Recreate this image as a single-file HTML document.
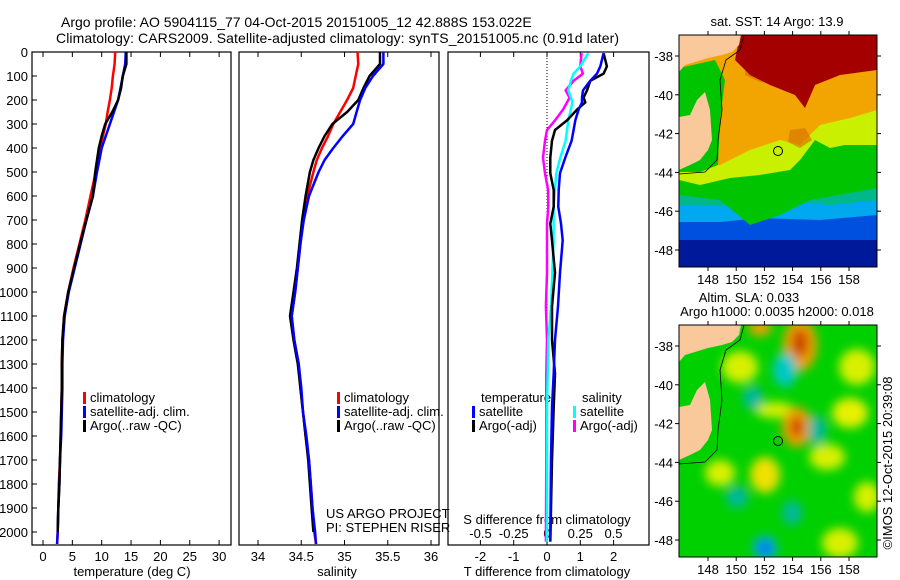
<!DOCTYPE html>
<html><head><meta charset="utf-8"><style>
html,body{margin:0;padding:0;background:#fff;}
svg{display:block;font-family:"Liberation Sans",sans-serif;}
text{font-size:13px;fill:#000;}
</style></head><body>
<svg id="c" width="900" height="580" viewBox="0 0 900 580" xmlns="http://www.w3.org/2000/svg">
<defs>
<clipPath id="m1"><rect x="679" y="35" width="198" height="232"/></clipPath>
<clipPath id="m2"><rect x="679" y="325" width="198" height="232"/></clipPath>
<filter id="bl" x="-50%" y="-50%" width="200%" height="200%"><feGaussianBlur stdDeviation="5"/></filter>
</defs>
<text x="61" y="27" style="font-size:14px">Argo profile: AO 5904115_77 04-Oct-2015 20151005_12 42.888S 153.022E</text>
<text x="56" y="43" style="font-size:14px" textLength="563">Climatology: CARS2009. Satellite-adjusted climatology: synTS_20151005.nc (0.91d later)</text>
<g id="axes"></g>
<g id="series"></g>

<!-- SST map -->
<g clip-path="url(#m1)">
<rect x="679" y="35" width="198" height="232" fill="#00189a"/>
<rect x="679" y="35" width="198" height="205" fill="#0050e0"/>
<polygon points="679,35 877,35 877,215 820,220 760,218 720,222 679,222" fill="#00a8f0"/>
<polygon points="679,35 877,35 877,200 830,205 780,200 720,206 679,205" fill="#00b88a"/>
<polygon points="679,35 877,35 877,188 810,200 780,215 750,225 720,200 679,195" fill="#00c400"/>
<polygon points="679,35 877,35 877,145 845,145 830,148 815,140 800,160 790,170 760,175 730,178 700,185 679,180" fill="#c8f000"/>
<polygon points="679,35 877,35 877,110 850,118 820,125 800,145 780,140 750,150 720,165 679,170" fill="#f2a400"/>
<polygon points="745,60 790,55 800,80 780,85 760,82 745,75" fill="#d87800" opacity="0.8"/>
<polygon points="790,130 805,128 812,140 800,148 788,142" fill="#d87800" opacity="0.7"/>
<polygon points="740,35 877,35 877,70 840,75 815,85 805,108 795,95 770,85 750,75 735,60" fill="#a50000"/>
<polygon points="679,68 715,60 725,80 720,120 718,165 700,172 679,172" fill="#00c400"/>
<polygon points="679,35 741,35 739,45 732,52 722,55 708,58 695,62 685,65 679,72" fill="#f9c89b"/>
<polygon points="679,117 690,115 697,100 705,92 710,110 712,140 708,150 700,160 690,165 679,170" fill="#f9c89b"/>
<polyline points="744,35 740,50 726,60 720,80 722,110 718,140 717,160 705,172 679,174" fill="none" stroke="#000" stroke-width="0.8"/>
<circle cx="778" cy="151" r="4.5" fill="none" stroke="#000" stroke-width="1"/>
</g>
<rect x="679" y="35" width="198" height="232" fill="none" stroke="#000" stroke-width="1"/>

<!-- SLA map -->
<g clip-path="url(#m2)">
<rect x="679" y="325" width="198" height="232" fill="#00d000"/>
<g filter="url(#bl)">
<ellipse cx="740" cy="367" rx="18" ry="16" fill="#d8f000"/>
<ellipse cx="857" cy="367" rx="18" ry="18" fill="#d8f000"/>
<ellipse cx="850" cy="413" rx="18" ry="15" fill="#e8f000"/>
<ellipse cx="827" cy="457" rx="18" ry="13" fill="#d8f000"/>
<ellipse cx="720" cy="473" rx="15" ry="13" fill="#d8f000"/>
<ellipse cx="840" cy="543" rx="18" ry="15" fill="#d8f000"/>
<ellipse cx="867" cy="497" rx="13" ry="15" fill="#d8f000"/>
<ellipse cx="765" cy="475" rx="15" ry="18" fill="#f0e000"/>
<ellipse cx="775" cy="410" rx="20" ry="8" fill="#d8f000"/>
<ellipse cx="800" cy="345" rx="17" ry="26" fill="#f0a000"/>
<ellipse cx="800" cy="343" rx="8" ry="14" fill="#c84000"/>
<ellipse cx="797" cy="427" rx="15" ry="20" fill="#f0a000"/>
<ellipse cx="797" cy="427" rx="6" ry="10" fill="#c83000"/>
<ellipse cx="760" cy="328" rx="12" ry="8" fill="#f0a000"/>
<ellipse cx="785" cy="370" rx="12" ry="17" fill="#00c8c8"/>
<ellipse cx="753" cy="398" rx="10" ry="12" fill="#00b8a0"/>
<ellipse cx="817" cy="430" rx="9" ry="15" fill="#00b8a0"/>
<ellipse cx="737" cy="497" rx="11" ry="11" fill="#00b8a0"/>
<ellipse cx="792" cy="513" rx="10" ry="12" fill="#00b8a0"/>
<ellipse cx="765" cy="548" rx="12" ry="12" fill="#00a8f0"/>
<ellipse cx="765" cy="548" rx="5" ry="5" fill="#0050e0"/>
</g>
<polygon points="679,325 741,325 739,335 732,342 722,345 708,348 695,352 685,355 679,362" fill="#f9c89b"/>
<polygon points="679,407 690,405 697,390 705,382 710,400 712,430 708,440 700,450 690,455 679,460" fill="#f9c89b"/>
<polyline points="744,325 740,340 726,350 720,370 722,400 718,430 717,450 705,462 679,464" fill="none" stroke="#000" stroke-width="0.8"/>
<circle cx="778" cy="441" r="4.5" fill="none" stroke="#000" stroke-width="1"/>
</g>
<rect x="679" y="325" width="198" height="232" fill="none" stroke="#000" stroke-width="1"/>

<text x="777" y="26" text-anchor="middle">sat. SST: 14 Argo: 13.9</text>
<text x="749" y="302" text-anchor="middle">Altim. SLA: 0.033</text>
<text x="777" y="316" text-anchor="middle">Argo h1000: 0.0035 h2000: 0.018</text>
<text transform="translate(892,463) rotate(-90)" text-anchor="middle">©IMOS 12-Oct-2015 20:39:08</text>
<g id="maps"></g>
</svg>
<script>
// ---------- data ----------
const depth1 = [0,50,100,150,200,250,300,350,400,450,500,600,700,800,900,1000,1100,1200,1300,1400,1500,1600,1700,1800,1900,2000,2050];
const climT = [12.3,12.2,11.9,11.7,11.4,11.0,10.7,10.2,9.7,9.3,9.0,8.1,7.2,6.2,5.2,4.3,3.6,3.3,3.2,3.2,3.1,3.0,2.9,2.7,2.6,2.5,2.4];
const satT = [14.1,14.0,13.6,13.2,12.8,12.1,11.4,10.7,10.0,9.6,9.2,8.5,7.4,6.4,5.4,4.4,3.7,3.4,3.3,3.3,3.2,3.1,2.9,2.8,2.6,2.5,2.4];
const argoT = [14.2,14.2,13.6,13.3,12.8,11.8,10.6,10.0,9.5,9.2,8.9,8.5,7.4,6.3,5.3,4.3,3.6,3.3,3.2,3.2,3.1,3.0,2.9,2.8,2.6,2.5];
const climS = [35.15,35.16,35.13,35.10,35.03,34.95,34.87,34.81,34.74,34.68,34.64,34.57,34.52,34.49,34.46,34.43,34.39,34.42,34.47,34.49,34.52,34.55,34.59,34.61,34.63,34.65,34.67];
const satS = [35.45,35.45,35.33,35.24,35.18,35.14,35.10,34.98,34.87,34.77,34.70,34.59,34.53,34.49,34.46,34.43,34.39,34.42,34.47,34.50,34.52,34.56,34.59,34.61,34.63,34.66,34.67];
const argoS = [35.41,35.41,35.29,35.22,35.16,35.03,34.86,34.77,34.70,34.64,34.60,34.55,34.51,34.48,34.45,34.41,34.37,34.41,34.46,34.49,34.52,34.55,34.58,34.60,34.62,34.64];
const depth3 = [5,60,90,120,160,190,210,240,285,325,370,440,505,575,645,715,785,920,1060,1200,1340,1480,1700,2040];
const dTsat = [1.7,1.6,1.5,1.3,1.08,1.05,1.05,0.95,0.85,0.8,0.74,0.55,0.39,0.35,0.34,0.42,0.47,0.39,0.33,0.24,0.2,0.15,0.12,0.1];
const dTargo = [1.7,1.8,1.7,1.3,1.2,1.1,1.15,0.9,0.6,0.24,0.15,0.1,0.1,0.2,0.2,0.1,0.15,0.24,0.15,0.15,0.24,0.2,0.15,0.1];
const dSsat = [0.31,0.25,0.2,0.18,0.16,0.18,0.19,0.18,0.16,0.15,0.14,0.1,0.07,0.06,0.05,0.05,0.05,0.04,0.03,0.01,0.005,0,0,0];
const dSargo = [0.26,0.25,0.27,0.2,0.14,0.17,0.15,0.12,0.06,0,-0.015,-0.03,-0.015,0.008,0.01,0,0,0,-0.008,0,-0.005,-0.005,-0.005,-0.008];
const depthTicks = [0,100,200,300,400,500,600,700,800,900,1000,1100,1200,1300,1400,1500,1600,1700,1800,1900,2000];
const tTicks = [0,5,10,15,20,25,30];
const sTicks = [34,34.5,35,35.5,36];
const dTTicks = [-2,-1,0,1,2];
const dSTicks = [-0.5,-0.25,0,0.25,0.5];
const dSTickLabels = ['-0.5','-0.25','0','0.25','0.5'];
const lonTicks = [148,150,152,154,156,158];
const latTicks = [-38,-40,-42,-44,-46,-48];

// ---------- scales ----------
const yD = d => 52 + 0.24*d;
const xT = t => 43 + 5.87*t;
const xS = s => 258 + 86.5*(s-34);
const xDT = t => 547 + 33.3*t;
const xDS = s => 547 + 133*s;
const lonX = l => 708 + (l-148)*14.1;
const latY1 = l => 56 + (-38-l)*19.4;

const NS='http://www.w3.org/2000/svg';
const axes=document.getElementById('axes');
const ser=document.getElementById('series');
const maps=document.getElementById('maps');
function mk(tag,attrs,parent){const e=document.createElementNS(NS,tag);for(const k in attrs)e.setAttribute(k,attrs[k]);parent.appendChild(e);return e;}

const panels=[{x0:32,x1:231,name:'temperature-panel'},{x0:239,x1:439,name:'salinity-panel'},{x0:448,x1:649,name:'difference-panel'}];
panels.forEach(p=>{
  const r=mk('rect',{x:p.x0,y:52,width:p.x1-p.x0,height:493,fill:'none',stroke:'#000','stroke-width':1.2},axes);
  
  
});
depthTicks.forEach(d=>{
  const y=yD(d);
  mk('line',{x1:32,x2:37,y1:y,y2:y,stroke:'#000'},axes);
  const t=mk('text',{x:28,y:y+5,'text-anchor':'end'},axes);
  t.textContent=d;
  
  
});
function xticks(vals,fx,labels,ly,top){
  vals.forEach((v,i)=>{
    const x=fx(v);
    mk('line',{x1:x,x2:x,y1:545,y2:540,stroke:'#000'},axes);
    if(top) mk('line',{x1:x,x2:x,y1:52,y2:57,stroke:'#000'},axes);
    const t=mk('text',{x:x,y:ly,'text-anchor':'middle'},axes);
    t.textContent=labels?labels[i]:v;
    
    
  });
}
xticks(tTicks,xT,null,561,true);
xticks(sTicks,xS,null,561,true);
xticks(dTTicks,xDT,null,561,true);
dSTicks.forEach((v,i)=>{
  const x=xDS(v);
  const t=mk('text',{x:x,y:538,'text-anchor':'middle'},axes);
  t.textContent=dSTickLabels[i];
  
  
});
function lab(x,y,txt,name,anchor){const t=mk('text',{x:x,y:y,'text-anchor':anchor||'start'},axes);t.textContent=txt;
  
  return t;}
lab(132,576,'temperature (deg C)','x-axis-title-temperature','middle');
lab(337,576,'salinity','x-axis-title-salinity','middle');
lab(547,576,'T difference from climatology','x-axis-title-tdiff','middle');
lab(547,524,'S difference from climatology','s-diff-axis-title','middle');
lab(326,518,'US ARGO PROJECT','project-label');
lab(326,532,'PI: STEPHEN RISER','pi-label');
mk('line',{x1:547,x2:547,y1:52,y2:545,stroke:'#000','stroke-dasharray':'1,2','stroke-width':1},axes);

function legend(x,y,color,txt){
  mk('rect',{x:x,y:y-10,width:3,height:12,fill:color},axes);
  lab(x+7,y,txt,'legend-entry');
}
legend(83,402,'#f00','climatology');legend(83,416,'#00f','satellite-adj. clim.');legend(83,430,'#000','Argo(..raw -QC)');
legend(337,402,'#f00','climatology');legend(337,416,'#00f','satellite-adj. clim.');legend(337,430,'#000','Argo(..raw -QC)');
lab(481,402,'temperature','legend-heading-temperature');
legend(472,416,'#00f','satellite');legend(472,430,'#000','Argo(-adj)');
lab(582,402,'salinity','legend-heading-salinity');
legend(573,416,'#0ff','satellite');legend(573,430,'#f0f','Argo(-adj)');

function line(depths,vals,fx,color,name){
  const pts=vals.map((v,i)=>fx(v).toFixed(1)+','+yD(depths[i]).toFixed(1)).join(' ');
  const p=mk('polyline',{points:pts,fill:'none',stroke:color,'stroke-width':2.5,'stroke-linejoin':'round'},ser);
  
  
}
line(depth1,climT,xT,'#f00','temperature-climatology-line');
line(depth1,satT,xT,'#00f','temperature-satellite-line');
line(depth1,argoT,xT,'#000','temperature-argo-line');
line(depth1,climS,xS,'#f00','salinity-climatology-line');
line(depth1,argoS,xS,'#000','salinity-argo-line');
line(depth1,satS,xS,'#00f','salinity-satellite-line');
line(depth3,dSargo,xDS,'#f0f','s-diff-argo-line');
line(depth3,dSsat,xDS,'#0ff','s-diff-satellite-line');
line(depth3,dTargo,xDT,'#000','t-diff-argo-line');
line(depth3,dTsat,xDT,'#00f','t-diff-satellite-line');

[0,290].forEach(off=>{
  lonTicks.forEach(l=>{
    const x=lonX(l);
    mk('line',{x1:x,x2:x,y1:35+off,y2:31+off,stroke:'#000'},maps);
    mk('line',{x1:x,x2:x,y1:267+off,y2:271+off,stroke:'#000'},maps);
    const t=mk('text',{x:x,y:284+off,'text-anchor':'middle'},maps);
    t.textContent=l;
    
    
  });
  latTicks.forEach(l=>{
    const y=latY1(l)+off;
    mk('line',{x1:675,x2:679,y1:y,y2:y,stroke:'#000'},maps);
    mk('line',{x1:877,x2:881,y1:y,y2:y,stroke:'#000'},maps);
    const t=mk('text',{x:673,y:y+5,'text-anchor':'end'},maps);
    t.textContent=l;
    
    
  });
});
</script>
</body></html>
